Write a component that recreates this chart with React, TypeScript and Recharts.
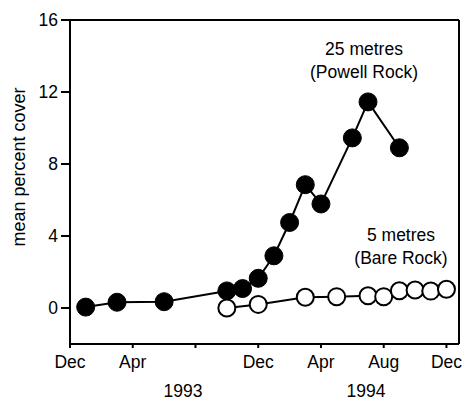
import React from "react";
import {
  LineChart,
  Line,
  XAxis,
  YAxis,
  ReferenceLine,
} from "recharts";

// months counted from Dec 1992
const deepMonths = [1, 3, 6, 10, 11, 12, 13, 14, 15, 16, 18, 19, 21];
const deepCover = [0.05, 0.32, 0.35, 0.95, 1.08, 1.65, 2.9, 4.75, 6.85, 5.78, 9.45, 11.45, 8.9];

const shallowMonths = [10, 12, 15, 17, 19, 20, 21, 22, 23, 24];
const shallowCover = [0, 0.2, 0.6, 0.63, 0.68, 0.63, 0.96, 1.0, 0.94, 1.04];

const monthTicks = [0, 4, 8, 12, 16, 20, 24];
const monthLabels = ["Dec", "Apr", "", "Dec", "Apr", "Aug", "Dec"];
const coverTicks = [0, 4, 8, 12, 16];

const deepData = deepMonths.map((m, i) => ({ m, v: deepCover[i] }));
const shallowData = shallowMonths.map((m, i) => ({ m, v: shallowCover[i] }));

const font = "'Liberation Sans', Arial, Helvetica, sans-serif";
const txt = { fontSize: 17.5, fill: "#000", fontFamily: font };

const Note = (props: { x: number; y: number; children: React.ReactNode }) => (
  <div
    style={{
      position: "absolute",
      left: props.x,
      top: props.y,
      transform: "translate(-50%, -50%)",
      whiteSpace: "nowrap",
      fontFamily: font,
      fontSize: 17.5,
      lineHeight: "23px",
      textAlign: "center",
      color: "#000",
    }}>
    {props.children}
  </div>
);

const App = () => {
  return (
    <div style={{ position: "absolute", left: 0, top: 0, width: 466, height: 400 }}>
      <LineChart
        width={466}
        height={400}
        margin={{ top: 20, right: 7, bottom: 26, left: 0 }}>
        <XAxis
          dataKey="m"
          type="number"
          domain={[0, 24.8]}
          ticks={monthTicks}
          tickFormatter={(v: number) => monthLabels[monthTicks.indexOf(v)]}
          height={30}
          axisLine={{ stroke: "#000", strokeWidth: 2 }}
          tickLine={{ stroke: "#000", strokeWidth: 2 }}
          tickSize={4}
          tickMargin={8}
          tick={txt}
          allowDataOverflow
        />
        <YAxis
          dataKey="v"
          type="number"
          domain={[-2, 16]}
          ticks={coverTicks}
          width={70}
          axisLine={{ stroke: "#000", strokeWidth: 2 }}
          tickLine={{ stroke: "#000", strokeWidth: 2 }}
          tickSize={9}
          tickMargin={3}
          tick={txt}
          allowDataOverflow
        />
        <ReferenceLine y={16} stroke="#000" strokeWidth={2} />
        <ReferenceLine x={24.8} stroke="#000" strokeWidth={2} />
        <Line
          data={deepData}
          dataKey="v"
          type="linear"
          stroke="#000"
          strokeWidth={2}
          dot={{ r: 9, fill: "#000", stroke: "#000", strokeWidth: 1 }}
          isAnimationActive={false}
        />
        <Line
          data={shallowData}
          dataKey="v"
          type="linear"
          stroke="#000"
          strokeWidth={2}
          dot={{ r: 8.5, fill: "#fff", stroke: "#000", strokeWidth: 2 }}
          isAnimationActive={false}
        />
      </LineChart>
      <div
        style={{
          position: "absolute",
          left: 19,
          top: 167,
          transform: "translate(-50%, -50%) rotate(-90deg)",
          whiteSpace: "nowrap",
          fontFamily: font,
          fontSize: 18,
          color: "#000",
        }}>
        mean percent cover
      </div>
      <Note x={364} y={61}>
        25 metres
        <br />
        (Powell Rock)
      </Note>
      <Note x={401} y={247}>
        5 metres
        <br />
        (Bare Rock)
      </Note>
      <Note x={183} y={391}>1993</Note>
      <Note x={366} y={391}>1994</Note>
    </div>
  );
};

export default App;
